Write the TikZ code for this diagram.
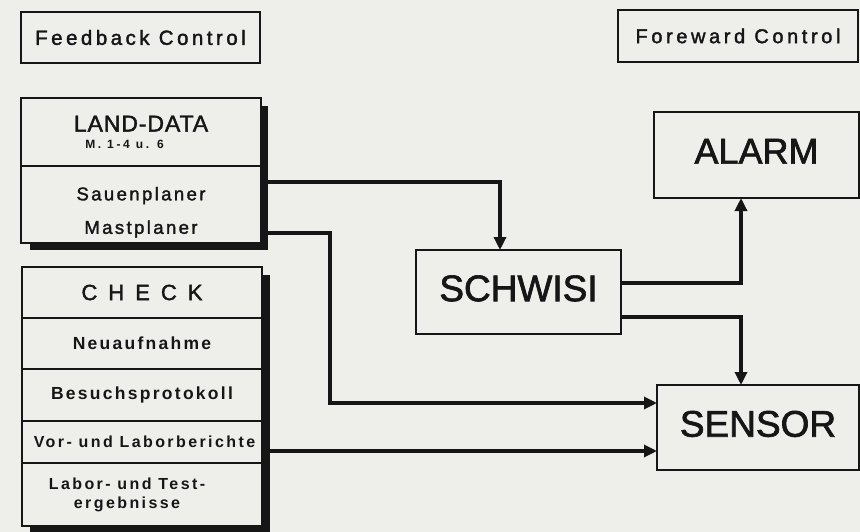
\documentclass[tikz,border=0pt]{standalone}
\usepackage{fontspec}
\setmainfont{Liberation Sans}
\usetikzlibrary{arrows.meta,positioning}
\definecolor{paper}{RGB}{238,238,235}
\definecolor{ink}{RGB}{22,22,22}
\newcommand{\setfs}[2]{\fontsize{#1}{#1}\selectfont\addfontfeatures{LetterSpace=#2}}
\newcommand{\heavy}{\addfontfeatures{FakeBold=1.8}}
\tikzset{
  box/.style={draw=ink,line width=2pt,fill=paper,inner sep=0pt,outer sep=0pt,
    minimum width=240pt,text=ink,align=center},
  sec/.style={box,line width=1.6pt},
  big/.style={box,minimum width=205pt,text depth=7.5pt,font=\setfs{37}{0}\heavy},
  small/.style={font=\bfseries\setfs{17.5}{13}},
  tiny/.style={font=\bfseries\setfs{16}{15}},
  arr/.style={->,line width=3.2pt,draw=ink},
}
\begin{document}
\begin{tikzpicture}[x=1pt,y=-1pt,>={Triangle[length=13pt,width=12pt]}]
  \fill[paper] (0,0) rectangle (860,532);
  \useasboundingbox (0,0) rectangle (860,532);
  % control headings
  \node[box,anchor=north west,minimum width=239pt,minimum height=51pt,font=\setfs{20.5}{17}\heavy] (fb) at (21,12) {Feedback Control};
  \node[box,anchor=north west,minimum height=52pt,font=\setfs{20}{18}\heavy] (fw) at (618,10) {Foreward Control};
  % shadows
  \fill[ink] (30,106) rectangle (268,250);
  \fill[ink] (30,275) rectangle (270,532);
  % LAND-DATA
  \node[sec,anchor=north west,minimum height=68pt] (land1) at (21,98)
    {{\setfs{23}{4}\heavy LAND-DATA}\\[4.6pt]{\bfseries\setfs{12}{22}\hspace*{-33pt}M. 1-4 u. 6}};
  \node[sec,below=0pt of land1,minimum height=77pt,font=\setfs{18.5}{13}\heavy] (land2)
    {\rule{0pt}{29pt}Sauenplaner\\[15pt]Mastplaner};
  % CHECK
  \node[sec,anchor=north west,minimum height=51pt,font=\setfs{22}{50}\heavy] (check1) at (22,267) {CHECK};
  \node[sec,small,below=0pt of check1,minimum height=51pt] (check2) {Neuaufnahme};
  \node[sec,small,below=0pt of check2,minimum height=52pt] (check3) {Besuchsprotokoll};
  \node[sec,tiny,below=0pt of check3,minimum height=42pt] (check4) {\hspace*{5pt}Vor- und Laborberichte};
  \node[sec,tiny,below=0pt of check4,minimum height=63pt] (check5)
    {\hspace*{-30pt}Labor- und Test-\\[3pt]\hspace*{-30pt}ergebnisse};
  % right side
  \node[big,anchor=north west,minimum height=84pt] (schwisi) at (416,250) {SCHWISI};
  \node[big,anchor=north west,minimum height=86pt,font=\setfs{36}{0}\heavy] (alarm) at (654,112) {ALARM};
  \node[big,anchor=north west,minimum width=202pt,minimum height=85pt] (sensor) at (657,385) {SENSOR};
  % connectors
  \draw[arr] (land2.east |- 0,182) -| ([xshift=-18.5pt]schwisi.north);
  \draw[arr] (land2.east |- 0,233) -| (330,403) -- (sensor.west |- 0,403);
  \draw[arr] (check4.east |- 0,451) -- (sensor.west |- 0,451);
  \draw[arr] (schwisi.east |- 0,283) -| ([xshift=-15.5pt]alarm.south);
  \draw[arr] (schwisi.east |- 0,317) -| ([xshift=-17pt]sensor.north);
\end{tikzpicture}
\end{document}
